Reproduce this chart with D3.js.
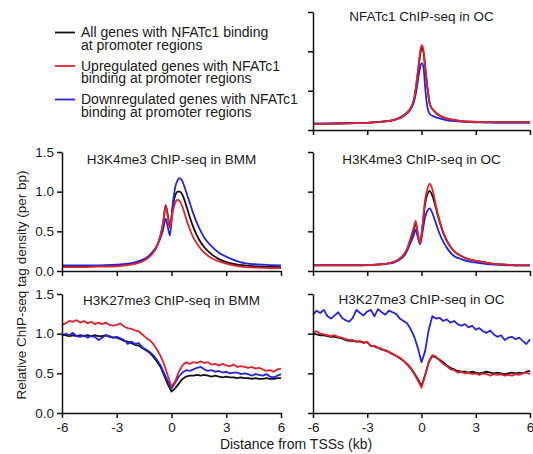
<!DOCTYPE html>
<html>
<head>
<meta charset="utf-8">
<script src="https://cdn.jsdelivr.net/npm/d3@7"></script>
<style>
  html, body { margin: 0; padding: 0; background: #fff; }
  svg { display: block; font-family: "Liberation Sans", Arial, sans-serif; }
</style>
</head>
<body>
<svg id="chart" width="533" height="454"></svg>
<script>
// ---------------- DATA ----------------
const seriesNames = ["All genes", "Upregulated genes", "Downregulated genes"];
const seriesColors = ["#111111", "#e4222a", "#2424e0"];
const legendText = [
  ["All genes with NFATc1 binding", "at promoter regions"],
  ["Upregulated genes with NFATc1", "binding at promoter regions"],
  ["Downregulated genes with NFATc1", "binding at promoter regions"]
];
const xTicks = [-6, -3, 0, 3, 6];
const yTicks = [0, 0.5, 1.0, 1.5];
const xLabel = "Distance from TSSs (kb)";
const yLabel = "Relative ChIP-seq tag density (per bp)";

// NFATc1 ChIP-seq in OC
const xNfat = [-6,-5,-4,-3,-2.5,-2,-1.5,-1.1,-0.8,-0.55,-0.4,-0.27,-0.15,-0.05,0.03,0.12,0.2,0.3,0.47,0.7,1.1,1.5,2,2.7,3.5,4.5,6];
const nfatAll  = [0.075,0.08,0.085,0.09,0.10,0.11,0.13,0.17,0.22,0.30,0.40,0.60,0.82,0.99,1.04,0.97,0.80,0.59,0.32,0.24,0.17,0.14,0.12,0.105,0.10,0.10,0.10];
const nfatUp   = [0.075,0.08,0.085,0.09,0.10,0.11,0.13,0.17,0.22,0.30,0.41,0.62,0.85,1.03,1.08,1.00,0.82,0.60,0.32,0.24,0.17,0.14,0.12,0.105,0.10,0.10,0.10];
const nfatDown = [0.085,0.085,0.09,0.09,0.10,0.11,0.13,0.16,0.21,0.28,0.37,0.52,0.70,0.82,0.85,0.78,0.55,0.33,0.20,0.17,0.14,0.12,0.11,0.10,0.095,0.09,0.09];

// H3K4me3 ChIP-seq (BMM and OC)
const xK4 = [-6,-5,-4,-3,-2.5,-2,-1.6,-1.3,-1.0,-0.8,-0.6,-0.45,-0.32,-0.2,-0.08,0.05,0.2,0.35,0.45,0.6,0.8,1.0,1.2,1.5,1.8,2.2,2.6,3.2,4,5,6];
const k4BmmAll  = [0.06,0.06,0.065,0.07,0.08,0.10,0.13,0.17,0.24,0.31,0.45,0.62,0.83,0.70,0.55,0.78,0.95,1.00,1.00,0.96,0.83,0.68,0.55,0.40,0.30,0.21,0.15,0.10,0.07,0.055,0.05];
const k4BmmUp   = [0.05,0.05,0.055,0.06,0.07,0.09,0.12,0.16,0.23,0.31,0.45,0.62,0.82,0.68,0.54,0.72,0.86,0.90,0.88,0.81,0.66,0.53,0.42,0.31,0.23,0.16,0.12,0.08,0.05,0.04,0.035];
const k4BmmDown = [0.07,0.07,0.07,0.08,0.09,0.11,0.14,0.18,0.25,0.32,0.42,0.53,0.66,0.55,0.45,0.80,1.05,1.15,1.17,1.13,1.00,0.86,0.72,0.55,0.42,0.31,0.23,0.16,0.10,0.08,0.07];
const k4OcAll   = [0.07,0.07,0.07,0.075,0.08,0.09,0.11,0.14,0.20,0.27,0.40,0.50,0.60,0.45,0.34,0.55,0.85,0.98,1.01,0.95,0.79,0.62,0.48,0.34,0.25,0.19,0.15,0.12,0.09,0.075,0.07];
const k4OcUp    = [0.07,0.07,0.07,0.075,0.08,0.09,0.11,0.14,0.20,0.28,0.42,0.53,0.63,0.47,0.35,0.57,0.90,1.05,1.10,1.03,0.82,0.64,0.49,0.34,0.25,0.19,0.15,0.12,0.09,0.075,0.07];
const k4OcDown  = [0.075,0.075,0.075,0.075,0.08,0.09,0.10,0.13,0.18,0.25,0.36,0.44,0.52,0.42,0.34,0.48,0.68,0.77,0.79,0.73,0.60,0.47,0.37,0.26,0.19,0.15,0.12,0.10,0.08,0.07,0.07];

// H3K27me3 ChIP-seq (BMM and OC)
const xK27 = [-6,-5.8,-5.6,-5.4,-5.2,-5,-4.8,-4.6,-4.4,-4.2,-4,-3.8,-3.6,-3.4,-3.2,-3,-2.8,-2.6,-2.4,-2.2,-2,-1.8,-1.6,-1.4,-1.2,-1,-0.8,-0.6,-0.4,-0.2,0,0.2,0.4,0.6,0.8,1,1.2,1.4,1.6,1.8,2,2.2,2.4,2.6,2.8,3,3.2,3.4,3.6,3.8,4,4.2,4.4,4.6,4.8,5,5.2,5.4,5.6,5.8,6];
const k27BmmAll  = [0.99,0.98,0.97,0.98,0.97,0.98,0.97,0.98,0.97,0.98,0.97,0.97,0.98,0.96,0.95,0.95,0.93,0.91,0.90,0.88,0.86,0.85,0.82,0.79,0.76,0.71,0.65,0.58,0.47,0.36,0.27,0.31,0.37,0.43,0.46,0.47,0.47,0.48,0.47,0.48,0.47,0.46,0.47,0.46,0.45,0.46,0.45,0.45,0.44,0.45,0.44,0.44,0.43,0.44,0.43,0.43,0.44,0.43,0.43,0.44,0.44];
const k27BmmUp   = [1.11,1.13,1.16,1.15,1.17,1.14,1.16,1.13,1.15,1.12,1.14,1.12,1.14,1.11,1.10,1.11,1.13,1.09,1.07,1.06,1.04,1.03,0.99,0.95,0.92,0.87,0.80,0.72,0.61,0.47,0.33,0.40,0.52,0.60,0.64,0.62,0.64,0.63,0.65,0.63,0.64,0.61,0.62,0.60,0.62,0.60,0.59,0.61,0.58,0.59,0.58,0.57,0.58,0.56,0.57,0.55,0.53,0.54,0.52,0.55,0.56];
const k27BmmDown = [0.97,1.00,0.98,1.01,0.97,0.96,0.98,0.95,0.97,0.96,0.92,0.95,0.98,0.97,0.95,0.96,0.94,0.92,0.87,0.90,0.87,0.88,0.83,0.80,0.77,0.73,0.67,0.60,0.50,0.40,0.31,0.38,0.46,0.51,0.54,0.53,0.55,0.57,0.58,0.55,0.53,0.54,0.52,0.53,0.51,0.52,0.50,0.51,0.51,0.49,0.50,0.49,0.47,0.49,0.48,0.47,0.49,0.46,0.45,0.47,0.49];
const k27OcAll   = [1.00,0.99,0.98,0.98,0.97,0.96,0.96,0.95,0.94,0.92,0.91,0.91,0.90,0.90,0.89,0.89,0.85,0.84,0.82,0.80,0.79,0.77,0.74,0.72,0.69,0.66,0.62,0.57,0.50,0.43,0.34,0.48,0.64,0.72,0.70,0.67,0.64,0.60,0.57,0.55,0.53,0.52,0.52,0.51,0.52,0.51,0.50,0.51,0.52,0.51,0.50,0.51,0.50,0.49,0.50,0.51,0.50,0.51,0.50,0.52,0.53];
const k27OcUp    = [1.02,1.03,1.00,0.99,0.98,0.97,0.98,0.96,0.95,0.93,0.92,0.92,0.90,0.91,0.88,0.90,0.84,0.85,0.82,0.81,0.78,0.77,0.75,0.72,0.70,0.66,0.61,0.56,0.49,0.41,0.32,0.47,0.65,0.73,0.71,0.66,0.62,0.59,0.55,0.54,0.51,0.52,0.50,0.51,0.49,0.50,0.48,0.50,0.49,0.47,0.49,0.48,0.49,0.47,0.48,0.47,0.49,0.48,0.50,0.51,0.49];
const k27OcDown  = [1.24,1.29,1.26,1.30,1.22,1.19,1.23,1.27,1.20,1.17,1.15,1.20,1.30,1.26,1.23,1.28,1.30,1.22,1.31,1.27,1.24,1.29,1.27,1.25,1.19,1.16,1.13,1.06,0.96,0.82,0.64,0.78,1.05,1.22,1.19,1.20,1.16,1.18,1.14,1.16,1.12,1.10,1.12,1.08,1.10,1.05,1.07,1.03,1.01,1.04,0.99,0.96,0.98,0.92,0.95,0.96,0.93,0.95,0.91,0.87,0.93];

// ---------------- LAYOUT ----------------
const svg = d3.select("#chart");
const FONT = 13.5;
const LEGEND_FONT = 14;
const FF = "'Liberation Sans', Arial, sans-serif";
const leftCol = [62, 281], rightCol = [313, 530];
const row0 = [130, 12], row1 = [271, 152], row2 = [413, 294];

const panels = [
  { title: "NFATc1 ChIP-seq in OC", x: xNfat, ys: [nfatAll, nfatUp, nfatDown], col: rightCol, row: row0, titleDy: 9, yLab: false, xLab: false, curve: d3.curveMonotoneX },
  { title: "H3K4me3 ChIP-seq in BMM", x: xK4, ys: [k4BmmAll, k4BmmUp, k4BmmDown], col: leftCol, row: row1, titleDy: 12, yLab: true, xLab: false, curve: d3.curveMonotoneX },
  { title: "H3K4me3 ChIP-seq in OC", x: xK4, ys: [k4OcAll, k4OcUp, k4OcDown], col: rightCol, row: row1, titleDy: 12, yLab: false, xLab: false, curve: d3.curveMonotoneX },
  { title: "H3K27me3 ChIP-seq in BMM", x: xK27, ys: [k27BmmAll, k27BmmUp, k27BmmDown], col: leftCol, row: row2, titleDy: 11, yLab: true, xLab: true, curve: d3.curveLinear },
  { title: "H3K27me3 ChIP-seq in OC", x: xK27, ys: [k27OcAll, k27OcUp, k27OcDown], col: rightCol, row: row2, titleDy: 10, yLab: false, xLab: true, curve: d3.curveLinear }
];
const drawOrder = [0, 2, 1]; // black, blue, red on top

panels.forEach(p => {
  const xs = d3.scaleLinear().domain([-6, 6]).range(p.col);
  const ys = d3.scaleLinear().domain([0, 1.5]).range(p.row);
  const g = svg.append("g");

  drawOrder.forEach(si => {
    const line = d3.line()
      .x((d, i) => xs(p.x[i]))
      .y(d => ys(d))
      .curve(p.curve);
    g.append("path")
      .datum(p.ys[si])
      .attr("d", line)
      .attr("fill", "none")
      .attr("stroke", seriesColors[si])
      .attr("stroke-width", 1.8)
      .attr("stroke-linejoin", "round");
  });

  const xAxis = d3.axisBottom(xs).tickValues(xTicks).tickSize(5).tickSizeOuter(0).tickPadding(4)
    .tickFormat(p.xLab ? (d => String(d)) : () => "");
  const yAxis = d3.axisLeft(ys).tickValues(yTicks).tickSize(5).tickSizeOuter(0).tickPadding(3)
    .tickFormat(p.yLab ? d3.format(".1f") : () => "");
  const gx = g.append("g").attr("transform", `translate(0,${p.row[0]})`).call(xAxis);
  const gy = g.append("g").attr("transform", `translate(${p.col[0]},0)`).call(yAxis);
  [gx, gy].forEach(a => {
    a.selectAll("path, line").attr("stroke", "#111").attr("stroke-width", 1.5);
    a.selectAll("text").attr("fill", "#1a1a1a").style("font-size", FONT + "px")
      .style("font-family", FF);
  });

  g.append("text")
    .attr("x", (p.col[0] + p.col[1]) / 2)
    .attr("y", p.row[1] + p.titleDy)
    .attr("text-anchor", "middle")
    .attr("fill", "#1a1a1a")
    .style("font-size", FONT + "px")
    .text(p.title);
});

// legend
const legY = [32.5, 66, 99.5];
legendText.forEach((lines, i) => {
  svg.append("line")
    .attr("x1", 55).attr("x2", 75)
    .attr("y1", legY[i]).attr("y2", legY[i])
    .attr("stroke", seriesColors[i]).attr("stroke-width", 1.8);
  lines.forEach((t, j) => {
    svg.append("text")
      .attr("x", 81)
      .attr("y", legY[i] + 4.5 + j * 12.5)
      .attr("fill", "#1a1a1a")
      .style("font-size", LEGEND_FONT + "px")
      .text(t);
  });
});

// axis titles
svg.append("text")
  .attr("x", 296).attr("y", 449)
  .attr("text-anchor", "middle")
  .attr("fill", "#1a1a1a")
  .style("font-size", "14px")
  .text(xLabel);

svg.append("text")
  .attr("transform", "translate(26,285) rotate(-90)")
  .attr("text-anchor", "middle")
  .attr("fill", "#1a1a1a")
  .style("font-size", FONT + "px")
  .text(yLabel);
</script>
</body>
</html>
